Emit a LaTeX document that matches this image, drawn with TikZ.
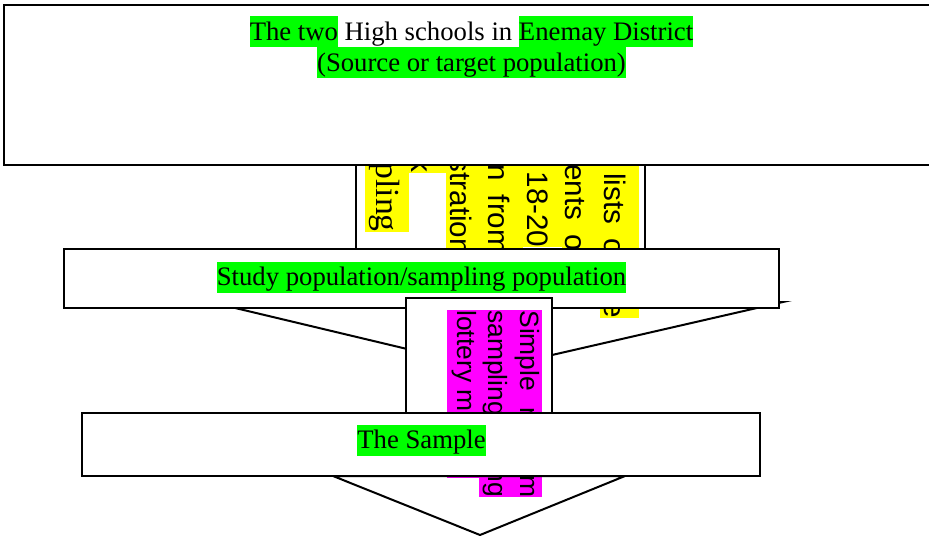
\documentclass[tikz,border=0pt]{standalone}
\usepackage{fontspec}
\setmainfont{Liberation Serif}
\newfontfamily\arialfam{Liberation Sans}
\usepackage{xcolor}
\definecolor{hlgrn}{RGB}{0,255,0}
\definecolor{hlyel}{RGB}{255,255,0}
\definecolor{hlmag}{RGB}{255,0,255}
\newcommand\hlg[1]{{\setlength{\fboxsep}{0pt}\colorbox{hlgrn}{\rule[-3.5pt]{0pt}{15.5pt}#1}}}
\newcommand\widesp{\spaceskip=7pt\relax}

\begin{document}
\begin{tikzpicture}[x=0.5pt, y=-0.5pt,
  box/.style={draw, fill=white, line width=1pt, inner sep=0pt},
  lbl/.style={inner sep=0pt, font=\fontsize{13.35}{15.5}\selectfont},
  ycol/.style={rotate=-90, anchor=base west, inner sep=0pt, fill=hlyel, text height=17.25pt, text depth=2pt, font=\arialfam\fontsize{14.8}{18}\selectfont\widesp},
  mcol/.style={rotate=-90, anchor=base west, inner sep=0pt, fill=hlmag, text height=11pt, text depth=5pt, font=\arialfam\fontsize{13.2}{15}\selectfont},
  funnel/.style={line width=1pt, line join=miter}
]
\useasboundingbox (0,0) rectangle (929,535);
% sampling frame box, mostly covered
\node[box, minimum width=144.5pt, minimum height=90pt] (frame) at (500.5,190) {};
\foreach \bx/\txt [count=\i] in {604/The lists of the, 565.5/students of, 527/age 18-20, 488.5/taken from, 450/registration, 411.5/book}{
  \node[ycol] (y\i) at (\bx,108) {\txt};}
\node[ycol, font=\fontsize{16.8}{19}\selectfont, text height=16.5pt, text depth=5.5pt] (y7) at (376,108) {sampling};
% source population
\node[box, minimum width=467.5pt, minimum height=80pt] (src) at (471.5,85) {};
\node[lbl, anchor=north, align=center] (srctxt) at (471.5,16)
  {\hlg{The two} High schools in \hlg{Enemay District}\\\hlg{(Source or target population)}};
% study population
\draw[funnel] (210,302) -- (783,302) -- (491,369) -- cycle;
\node[box, minimum width=357.5pt, minimum height=29.5pt] (study) at (421.5,278.5) {};
\node[lbl] (studytxt) at (421.5,277) {\hlg{Study population/sampling population}};
% sampling method
\node[box, minimum width=73pt, minimum height=76pt] (srs) at (479,374) {};
\node[mcol] (m1) at (520,310) {\makebox[93.5pt][s]{Simple random}};
\node[mcol] (m2) at (488.5,310) {\makebox[93.5pt][s]{sampling using}};
\node[mcol] (m3) at (457,310) {lottery method};
% sample
\draw[funnel] (333,476) -- (625,476) -- (480,535) -- cycle;
\node[box, minimum width=339pt, minimum height=31.5pt] (sample) at (421,444.5) {};
\node[lbl] (sampletxt) at (421.5,440) {\hlg{The Sample}};
\end{tikzpicture}
\end{document}
